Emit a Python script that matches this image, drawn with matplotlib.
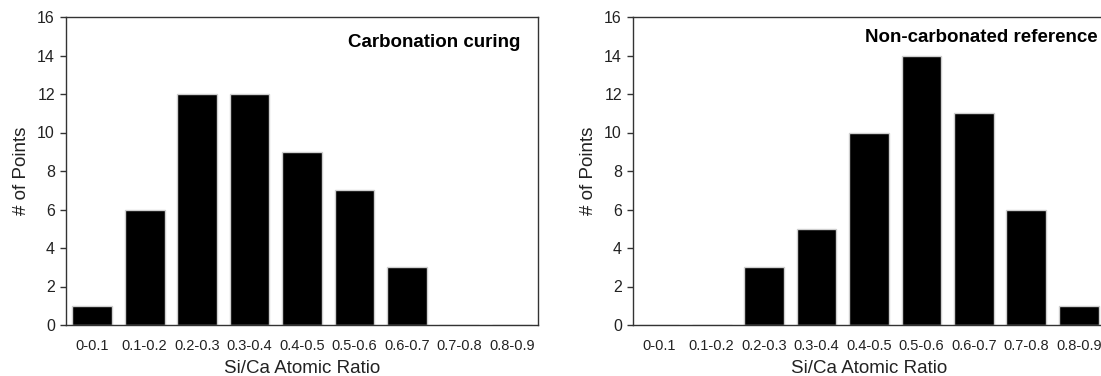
import matplotlib
matplotlib.use("Agg")
import matplotlib.pyplot as plt
import numpy as np

plt.rcParams['font.family'] = ['Liberation Sans', 'DejaVu Sans']

categories = ["0-0.1", "0.1-0.2", "0.2-0.3", "0.3-0.4", "0.4-0.5",
              "0.5-0.6", "0.6-0.7", "0.7-0.8", "0.8-0.9"]
carbonation = [1, 6, 12, 12, 9, 7, 3, 0, 0]
non_carbonated = [0, 0, 3, 5, 10, 14, 11, 6, 1]
yticks = [0, 2, 4, 6, 8, 10, 12, 14, 16]

W, H = 1101, 376
fig = plt.figure(figsize=(W / 100, H / 100), dpi=100)

def make_ax(x0, x1, y0, y1):
    return fig.add_axes([x0 / W, 1 - y1 / H, (x1 - x0) / W, (y1 - y0) / H])

ax1 = make_ax(66, 538, 17, 325)
ax2 = make_ax(633, 1105, 17, 325)

for ax, vals, title, tx, ty in [
    (ax1, carbonation, "Carbonation curing", 0.963, 0.918),
    (ax2, non_carbonated, "Non-carbonated reference", 0.985, 0.932),
]:
    x = np.arange(len(categories))
    ax.bar(x, vals, width=0.76, color='black', edgecolor='#cfcfcf', linewidth=1.0)
    ax.set_xlim(-0.5, len(categories) - 0.5)
    ax.set_ylim(0, 16)
    ax.set_yticks(yticks)
    ax.set_yticklabels([str(v) for v in yticks], fontsize=11.5, color='#222222')
    ax.set_xticks(x)
    ax.set_xticklabels(categories, fontsize=10.5, color='#222222')
    ax.tick_params(axis='x', length=0, pad=10)
    ax.tick_params(axis='y', direction='out', length=4, width=1, pad=4, color='#333333')
    for s in ax.spines.values():
        s.set_linewidth(1.0)
        s.set_color('#333333')
    ax.set_xlabel("Si/Ca Atomic Ratio", fontsize=13.5, color='#222222', labelpad=5)
    ax.set_ylabel("# of Points", fontsize=13.5, color='#222222', labelpad=5)
    ax.text(tx, ty, title, transform=ax.transAxes, ha='right', va='center',
            fontsize=13.5, fontweight='bold', color='black')

fig.savefig("out.png", dpi=100)
